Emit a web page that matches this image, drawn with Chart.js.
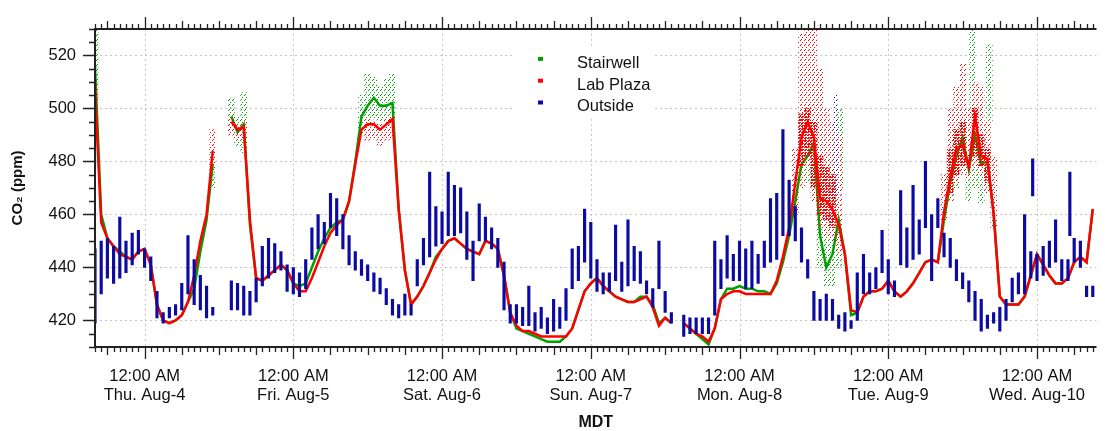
<!DOCTYPE html>
<html>
<head>
<meta charset="utf-8">
<script src="https://cdn.jsdelivr.net/npm/chart.js@4"></script>
<style>
  html, body { margin: 0; padding: 0; background: #fff; }
  #wrap { width: 1105px; height: 431px; }
</style>
</head>
<body>
<div id="wrap"><canvas id="c" width="1105" height="431"></canvas></div>
<script>
// CO2 readings, one per hour. Hour 0 = 4:00 PM MDT, Wed Aug 3.
const stairwell = [
  516, 460, 451, 448, 446, 444, 443, 446,
  447, 441, 426, 420, 419, 420, 422, 427,
  432, 446, 458, 479, null, null, 497, 491,
  494, 456, 436, 435, 437, 439, 441, 439,
  434, 433, 434, 440, 446, 451, 455, 457,
  458, 465, 480, 497, 501, 504, 501, 501,
  502, 462, 439, 426, 429, 433, 438, 444,
  447, 450, 451, 449, 447, 446, 445, 450,
  449, 447, 437, 423, 417, 416, 415, 414,
  413, 412, 412, 412, 414, 417, 424, 431,
  434, 436, 433, 431, 429, 428, 427, 427,
  429, 429, 426, 419, 421, 419, null, 419,
  417, 415, 413, 411, 417, 428, 432, 432,
  433, 432, 432, 431, 431, 430, 434, 442,
  452, 465, 479, 482, 487, 452, 440, 445,
  458, 445, 422, 423, 429, 431, 431, 432,
  435, 431, 429, 431, 434, 438, 442, 443,
  442, 458, 472, 482, 489, 477, 490, 479,
  480, 461, 429, 426, 426, 426, 429, 437,
  445, 441, 437, 434, 434, 436, 442, 444,
  442, 462
];

const labPlaza = [
  507, 457, 451, 448, 445, 444, 443, 446,
  447, 441, 426, 420, 419, 420, 422, 427,
  437, 450, 460, 484, null, null, 495, 492,
  493, 458, 436, 435, 437, 439, 441, 439,
  434, 431, 431, 436, 442, 448, 453, 456,
  458, 465, 479, 492, 494, 494, 492, 494,
  496, 462, 439, 426, 429, 433, 438, 443,
  447, 450, 451, 449, 447, 446, 445, 450,
  449, 447, 437, 423, 418, 416, 416, 415,
  414, 414, 414, 414, 414, 417, 424, 431,
  434, 436, 433, 431, 429, 428, 427, 427,
  428, 429, 425, 418, 421, 419, null, 419,
  417, 415, 414, 412, 417, 428, 430, 431,
  431, 430, 430, 430, 430, 430, 435, 444,
  455, 472, 489, 495, 489, 466, 465, 462,
  456, 445, 424, 423, 429, 431, 431, 432,
  435, 431, 429, 431, 434, 438, 442, 443,
  442, 461, 474, 485, 486, 478, 497, 482,
  481, 460, 429, 426, 426, 426, 429, 437,
  445, 441, 437, 434, 434, 436, 442, 444,
  442, 462
];

// Outside: [hour, low, high] range of the readings within each hour
const outside = [
  [0, 419, 447], [1, 430, 450], [2, 436, 451], [3, 434, 448], [4, 436, 459], [5, 438, 450],
  [6, 441, 453], [7, 445, 454], [8, 440, 447], [9, 435, 444], [10, 421, 431], [11, 419, 423],
  [12, 421, 425], [13, 422, 426], [14, 424, 434], [15, 430, 452], [16, 426, 443], [17, 424, 437],
  [18, 421, 433], [19, 422, 425],
  [22, 424, 435], [23, 424, 434], [24, 422, 433], [25, 422, 431], [26, 427, 436], [27, 433, 448],
  [28, 436, 451], [29, 438, 449], [30, 439, 446], [31, 431, 441], [32, 430, 440], [33, 429, 438],
  [34, 432, 443], [35, 443, 455], [36, 447, 460], [37, 449, 457], [38, 455, 468], [39, 452, 466],
  [40, 447, 460], [41, 441, 452], [42, 439, 446], [43, 437, 443], [44, 435, 441], [45, 431, 438],
  [46, 430, 436], [47, 426, 432], [48, 422, 428], [49, 421, 426], [50, 422, 430], [51, 422, 426],
  [52, 433, 443], [53, 441, 451], [54, 444, 476], [55, 448, 463], [56, 449, 461], [57, 452, 476],
  [58, 452, 471], [59, 453, 470], [60, 443, 461], [61, 435, 450], [62, 450, 464], [63, 450, 459],
  [64, 447, 455], [65, 440, 451], [66, 424, 442], [67, 419, 426], [68, 419, 426], [69, 418, 425],
  [70, 418, 433], [71, 416, 423], [72, 417, 425], [73, 415, 421], [74, 416, 428], [75, 417, 425],
  [76, 420, 432], [77, 432, 447], [78, 435, 448], [79, 442, 462], [80, 436, 457], [81, 431, 443],
  [82, 430, 438], [83, 431, 438], [84, 435, 456], [85, 431, 442], [86, 433, 458], [87, 435, 448],
  [88, 434, 446], [89, 430, 435], [90, 425, 432], [91, 432, 450], [92, 423, 431], [93, 419, 423],
  [95, 414, 422], [96, 415, 421], [97, 415, 421], [98, 415, 421], [99, 415, 421], [100, 422, 450],
  [101, 432, 443], [102, 436, 452], [103, 435, 445], [104, 435, 450], [105, 432, 447], [106, 432, 450],
  [107, 434, 445], [108, 440, 450], [109, 442, 466], [110, 443, 468], [111, 452, 492], [112, 452, 473],
  [113, 450, 463], [114, 442, 455], [115, 436, 443], [116, 420, 431], [117, 420, 428], [118, 420, 430],
  [119, 420, 428], [120, 417, 422], [121, 416, 423], [122, 417, 420], [123, 420, 438], [124, 430, 445],
  [125, 430, 438], [126, 432, 440], [127, 438, 454], [128, 430, 443], [129, 429, 435], [130, 441, 469],
  [131, 440, 455], [132, 443, 471], [133, 445, 458], [134, 455, 480], [135, 435, 460], [136, 455, 466],
  [137, 444, 453], [138, 440, 451], [139, 435, 443], [140, 432, 438], [141, 427, 435], [142, 420, 431],
  [143, 416, 428], [144, 417, 422], [145, 419, 423], [146, 416, 425], [147, 420, 428], [148, 427, 436],
  [149, 430, 438], [150, 430, 460], [151, 436, 446], [151.3, 467, 481], [152, 435, 445], [153, 437, 448],
  [154, 440, 450], [155, 442, 458], [156, 435, 443], [157, 435, 443], [157.3, 452, 476], [158, 442, 451],
  [159, 440, 450], [160, 429, 433], [161, 429, 433]
];

// Scattered readings during the noisy periods: [hour, low, high]
const stairwellScatter = [
  [0, 509, 530], [19, 470, 481], [22, 490, 504], [23, 486, 497], [24, 483, 506],
  [43, 490, 505], [44, 495, 513], [45, 496, 512], [46, 495, 508], [47, 494, 511], [48, 490, 513],
  [114, 470, 492], [115, 472, 497], [116, 470, 495], [117, 440, 475], [118, 433, 462],
  [119, 433, 460], [120, 440, 465], [120.3, 470, 500],
  [138, 465, 490], [139, 470, 495], [140, 475, 492], [141, 465, 483], [141.6, 480, 530],
  [142, 470, 495], [143, 464, 482], [144, 470, 485], [144.3, 495, 524]
];
const labPlazaScatter = [
  [0, 503, 509], [19, 478, 492], [22, 490, 497], [23, 489, 494], [24, 488, 495],
  [44, 488, 496], [45, 489, 495], [46, 486, 494], [47, 488, 496], [48, 489, 497],
  [113, 460, 485], [114, 470, 528], [115, 478, 530], [116, 465, 530], [117, 455, 515],
  [118, 452, 500], [119, 450, 495], [120, 445, 490],
  [137, 458, 475], [138, 465, 500], [139, 472, 508], [140, 475, 517], [141, 474, 500],
  [142, 478, 510], [143, 475, 508], [144, 468, 495], [145, 455, 482]
];
// Dense core of the Lab Plaza scatter
const labPlazaCore = [
  [114, 478, 498], [115, 482, 500], [116, 470, 495], [117, 460, 482], [118, 458, 478],
  [119, 455, 475], [138, 468, 485], [139, 475, 492], [140, 478, 495], [142, 482, 500],
  [143, 478, 490], [144, 472, 485]
];
const outsideScatter = [[119.5, 466, 505]];

const seriesNames = ['Stairwell', 'Lab Plaza', 'Outside'];
const midnightHours = [8, 32, 56, 80, 104, 128, 152];
const timeLabel = '12:00 AM';
const dayLabels = ['Thu. Aug-4', 'Fri. Aug-5', 'Sat. Aug-6', 'Sun. Aug-7', 'Mon. Aug-8', 'Tue. Aug-9', 'Wed. Aug-10'];
const yTicks = [420, 440, 460, 480, 500, 520];

const GREEN = '#00a000';
const RED = '#ff0000';
const BLUE = '#0b0ba3';
const FONT = '"Liberation Sans", Arial, Helvetica, sans-serif';

// stipple fills used for the scattered readings
function stipple(color, dense) {
  const c = document.createElement('canvas');
  c.width = dense ? 3 : 4; c.height = dense ? 3 : 5;
  const g = c.getContext('2d');
  g.fillStyle = color;
  if (dense) {
    g.fillRect(0, 0, 2, 1);
    g.fillRect(1, 2, 2, 1);
  } else {
    g.fillRect(0, 0, 1, 1);
    g.fillRect(2, 2, 1, 1);
    g.fillRect(1, 4, 1, 1);
  }
  return g.createPattern(c, 'repeat');
}

const hourly = arr => arr.map((v, i) => ({ x: i, y: v }));
const ranges = arr => arr.map(([h, lo, hi]) => ({ x: h, y: [lo, hi] }));

// grid, axis frame with minor ticks, and the legend box
const frame = {
  id: 'frame',
  beforeDatasetsDraw(chart) {
    const { ctx, chartArea: a, scales: { x, y } } = chart;
    ctx.save();
    ctx.strokeStyle = '#c4c4c4';
    ctx.lineWidth = 1;
    ctx.setLineDash([2, 3]);
    ctx.beginPath();
    for (const v of yTicks) {
      const py = Math.round(y.getPixelForValue(v)) + 0.5;
      ctx.moveTo(a.left, py); ctx.lineTo(a.right, py);
    }
    for (const h of midnightHours) {
      const px = Math.round(x.getPixelForValue(h)) + 0.5;
      ctx.moveTo(px, a.top); ctx.lineTo(px, a.bottom);
    }
    ctx.stroke();
    ctx.setLineDash([]);
    // legend backdrop
    ctx.fillStyle = '#fff';
    ctx.fillRect(a.left + 419, a.top + 17, 141, 73);
    ctx.restore();
  },
  afterDatasetsDraw(chart) {
    const { ctx, chartArea: a, scales: { x, y } } = chart;
    ctx.save();
    ctx.strokeStyle = '#222';
    // hourly ticks on top and bottom edges
    ctx.lineWidth = 1.3;
    ctx.beginPath();
    for (let h = Math.ceil(x.min); h <= x.max; h++) {
      const px = Math.round(x.getPixelForValue(h)) + 0.5;
      const k = ((h - 8) % 24 + 24) % 24;
      const len = k === 0 ? 12 : (k % 6 === 0 ? 8 : 5);
      ctx.moveTo(px, a.top); ctx.lineTo(px, a.top - len);
      ctx.moveTo(px, a.bottom); ctx.lineTo(px, a.bottom + len);
    }
    // 5 ppm ticks on the left edge
    for (let v = y.min; v <= y.max; v += 5) {
      const py = Math.round(y.getPixelForValue(v)) + 0.5;
      const len = v % 20 === 0 ? 12 : 6;
      ctx.moveTo(a.left, py); ctx.lineTo(a.left - len, py);
    }
    ctx.stroke();
    // axis lines
    ctx.lineWidth = 2;
    ctx.beginPath();
    ctx.moveTo(a.left, a.top); ctx.lineTo(a.right, a.top);
    ctx.moveTo(a.left, a.top - 1); ctx.lineTo(a.left, a.bottom + 1);
    ctx.moveTo(a.left, a.bottom); ctx.lineTo(a.right, a.bottom);
    ctx.stroke();

    // legend
    const colors = [GREEN, RED, BLUE];
    ctx.font = '16.5px ' + FONT;
    ctx.textBaseline = 'alphabetic';
    seriesNames.forEach((name, i) => {
      const cy = a.top + 30 + i * 21.8;
      ctx.fillStyle = colors[i];
      ctx.fillRect(a.left + 443, cy - 2, 5, 4);
      ctx.fillStyle = '#111';
      ctx.fillText(name, a.left + 482, a.top + 39.5 + i * 21.5);
    });
    ctx.restore();
  }
};

new Chart(document.getElementById('c'), {
  type: 'bar',
  data: {
    datasets: [
      { type: 'bar', label: seriesNames[0] + ' scatter', data: ranges(stairwellScatter),
        backgroundColor: stipple(GREEN, false), barThickness: 6, grouped: false, order: 7 },
      { type: 'line', label: seriesNames[0], data: hourly(stairwell),
        borderColor: GREEN, borderWidth: 2.5, pointRadius: 0, tension: 0, spanGaps: false, order: 6 },
      { type: 'bar', label: seriesNames[1] + ' scatter', data: ranges(labPlazaScatter),
        backgroundColor: stipple(RED, false), barThickness: 6, grouped: false, order: 5 },
      { type: 'bar', label: seriesNames[1] + ' core', data: ranges(labPlazaCore),
        backgroundColor: stipple(RED, true), barThickness: 6, grouped: false, order: 4 },
      { type: 'line', label: seriesNames[1], data: hourly(labPlaza),
        borderColor: RED, borderWidth: 2.5, pointRadius: 0, tension: 0, spanGaps: false, order: 3 },
      { type: 'bar', label: seriesNames[2] + ' scatter', data: ranges(outsideScatter),
        backgroundColor: stipple(BLUE, false), barThickness: 3, grouped: false, order: 2 },
      { type: 'bar', label: seriesNames[2], data: ranges(outside),
        backgroundColor: BLUE, barThickness: 2.5, grouped: false, minBarLength: 2, order: 1 }
    ]
  },
  options: {
    responsive: false,
    animation: false,
    events: [],
    layout: { padding: { top: 27, left: 0, right: 0, bottom: 0 } },
    plugins: { legend: { display: false }, tooltip: { enabled: false } },
    scales: {
      x: {
        type: 'linear', min: 0, max: 161.6, offset: false,
        grid: { display: false, drawTicks: false },
        border: { display: false },
        afterBuildTicks: s => { s.ticks = midnightHours.map(v => ({ value: v })); },
        afterFit: s => { s.height = 84; },
        ticks: {
          autoSkip: false, maxRotation: 0, padding: 20, color: '#111',
          font: { family: FONT, size: 16.5, lineHeight: 1.15 },
          callback: (v, i) => [timeLabel, dayLabels[i]]
        },
        title: {
          display: true, text: 'MDT', color: '#111',
          font: { family: FONT, size: 16, weight: 'bold', lineHeight: 1 },
          padding: { top: 0, bottom: 0 }
        }
      },
      y: {
        min: 410, max: 530,
        grid: { display: false, drawTicks: false },
        border: { display: false },
        afterBuildTicks: s => { s.ticks = yTicks.map(v => ({ value: v })); },
        afterFit: s => { s.width = 95; },
        ticks: { padding: 19, color: '#111', font: { family: FONT, size: 16.5 } },
        title: {
          display: true, text: 'CO₂ (ppm)', color: '#111',
          font: { family: FONT, size: 15, weight: 'bold', lineHeight: 1.2 },
          padding: { top: 9, bottom: 0 }
        }
      }
    }
  },
  plugins: [frame]
});
</script>
</body>
</html>
